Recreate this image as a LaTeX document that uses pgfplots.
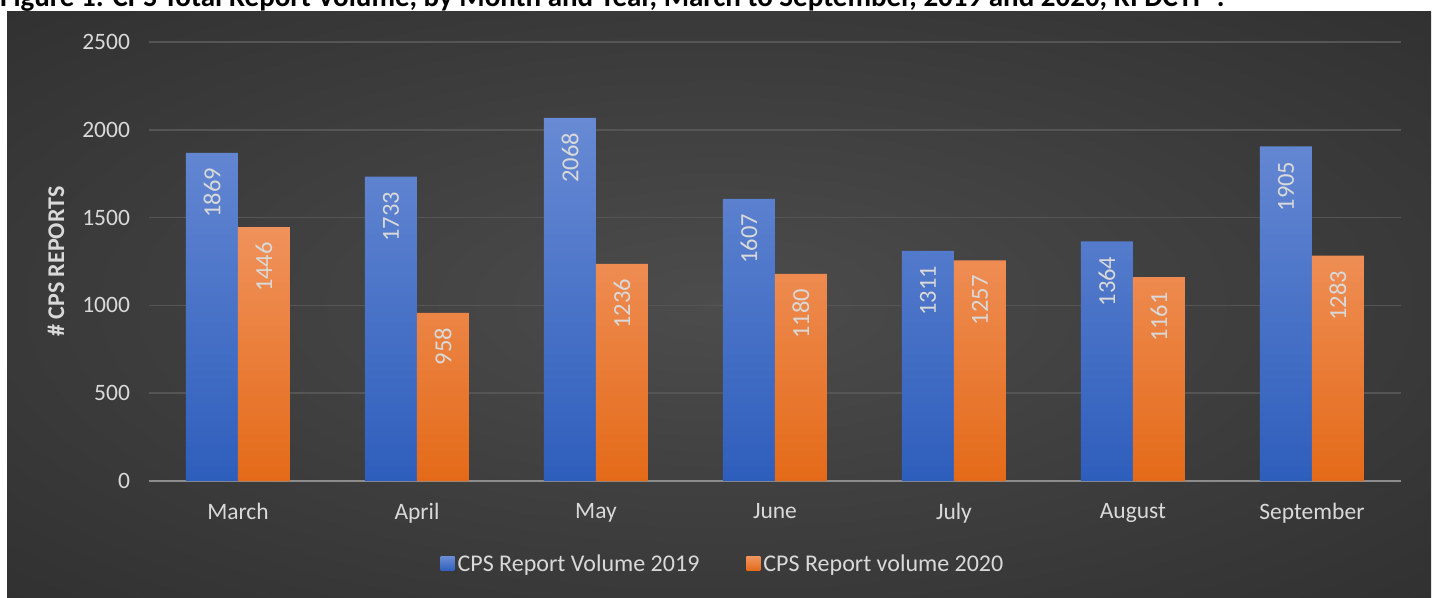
\documentclass[border=0pt]{standalone}
\usepackage{pgfplots}
\pgfplotsset{compat=1.18}
\usepackage{fontspec}
\setmainfont{Carlito}
\definecolor{bgin}{RGB}{76,76,76}
\definecolor{bgout}{RGB}{38,38,38}
\definecolor{bluetop}{RGB}{104,138,212}
\definecolor{bluebot}{RGB}{46,94,188}
\definecolor{orangetop}{RGB}{240,146,92}
\definecolor{orangebot}{RGB}{228,106,24}
\definecolor{txt}{RGB}{217,217,217}
\definecolor{gridc}{RGB}{85,85,85}
\definecolor{basec}{RGB}{140,140,140}
\pgfdeclareradialshading{bgshade}{\pgfpoint{0bp}{0bp}}{color(0bp)=(bgin); color(50bp)=(bgout); color(80bp)=(bgout)}
\begin{document}
\begin{tikzpicture}[x=1pt,y=1pt]
\useasboundingbox (0,0) rectangle (1439,597);
\fill[white] (0,0) rectangle (1439,597);
\shade[shading=bgshade] (7,0) rectangle (1431,585.5);
\node[anchor=base west, font=\fontsize{29}{33}\selectfont\bfseries, inner sep=0] at (0,590) {Figure 1: CPS Total Report Volume, by Month and Year, March to September, 2019 and 2020, RI DCYF\textsuperscript{1}.};
\begin{axis}[
  at={(148.5pt,116pt)}, anchor=south west,
  scale only axis, width=1253pt, height=439pt,
  ymin=0, ymax=2500, xmin=-0.5, xmax=6.5,
  ytick={0,500,1000,1500,2000,2500},
  xtick=data,
  xticklabels={March,April,May,June,July,August,September},
  /pgf/number format/assume math mode=true,
  /pgf/number format/1000 sep={},
  axis line style={draw=none},
  major tick length=0pt,
  tick style={draw=none},
  ymajorgrids,
  grid style={gridc, line width=1.5pt},
  extra y ticks={0},
  extra y tick labels={},
  extra y tick style={grid style={basec, line width=2.5pt}},
  yticklabel style={text=txt, font=\fontsize{23.5}{28}\selectfont, xshift=-15pt},
  xticklabel style={text=txt, font=\fontsize{23.5}{28}\selectfont, yshift=-19pt},
  ylabel={\# CPS REPORTS},
  ylabel style={at={(rel axis cs:-0.0738,0.5)}, anchor=center, font=\bfseries\fontsize{24}{28}\selectfont, text=txt},
  ybar=0pt, bar width=52pt,
  nodes near coords,
  every node near coord/.append style={rotate=90, anchor=east, font=\fontsize{24.5}{28}\selectfont, text=txt, inner xsep=15pt},
  legend style={at={(0.4589,-0.189)}, anchor=center, draw=none, fill=none, text=txt, font=\fontsize{24}{28}\selectfont, legend columns=2, /tikz/every even column/.append style={column sep=44pt}, nodes={inner xsep=3pt}},
  legend image code/.code={\fill[#1] (0pt,-7pt) rectangle (14pt,7pt);},
]
\addplot[draw=none, top color=bluetop, bottom color=bluebot] coordinates {(0,1869) (1,1733) (2,2068) (3,1607) (4,1311) (5,1364) (6,1905)};
\addplot[draw=none, top color=orangetop, bottom color=orangebot] coordinates {(0,1446) (1,958) (2,1236) (3,1180) (4,1257) (5,1161) (6,1283)};
\legend{CPS Report Volume 2019, CPS Report volume 2020}
\end{axis}
\end{tikzpicture}
\end{document}
